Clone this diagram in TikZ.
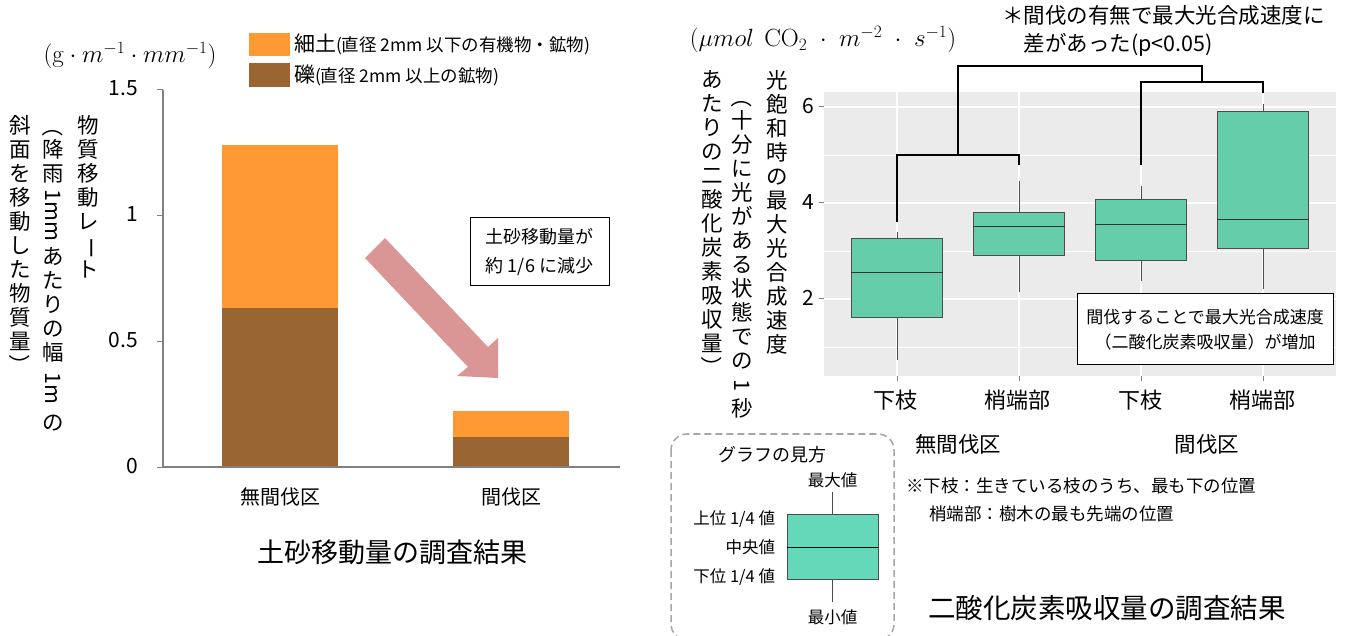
\documentclass[tikz,border=0pt]{standalone}
\usepackage[no-math]{fontspec}
\setmainfont{Noto Sans CJK JP}
\usepackage{graphicx}
\newcommand\fsz[2]{\fontsize{#1}{#2}\selectfont}
\newcommand\rot[1]{\rotatebox[origin=c]{-90}{#1}}
\definecolor{orng}{HTML}{FF9933}
\definecolor{brn}{HTML}{996633}
\definecolor{apink}{HTML}{D99694}
\definecolor{panelc}{HTML}{EBEBEB}
\definecolor{tealc}{HTML}{66CDAA}
\definecolor{teall}{HTML}{66D8BA}
\definecolor{boxln}{HTML}{4D4D4D}
\definecolor{axc}{HTML}{808080}
\definecolor{dashc}{HTML}{A6A6A6}
\tikzset{
  lbl/.style={inner sep=0pt, outer sep=0pt},
  vcol/.style={inner sep=0pt, outer sep=0pt, align=center, font=\fsz{21.5}{24}},
  axisln/.style={draw=axc, line width=1.5pt},
  tickln/.style={draw=axc, line width=1pt},
  whisk/.style={draw=boxln, line width=1pt},
  boxst/.style={fill=tealc, draw=boxln, line width=1pt},
  brk/.style={draw=black, line width=2.5pt},
  txtbox/.style={draw=black, line width=1pt, fill=white, inner sep=0pt, align=center},
}
\newcommand\bplot[6]{%
  \draw[whisk] (#1,#2) -- (#1,#3);
  \draw[whisk] (#1,#5) -- (#1,#6);
  \filldraw[boxst] (#1-45.75,#3) rectangle (#1+45.75,#5);
  \draw[draw=black!80, line width=1pt] (#1-45.75,#4) -- (#1+45.75,#4);
}
\begin{document}
\begin{tikzpicture}[x=1pt,y=-1pt]
\useasboundingbox (0,0) rectangle (1345,636);
% ================= left chart =================
\fill[brn] (222,467) rectangle (338,308);
\fill[orng] (222,308) rectangle (338,145);
\fill[brn] (453,467) rectangle (569,437);
\fill[orng] (453,437) rectangle (569,411);
\draw[axisln] (163,90) -- (163,467) -- (620,467);
\foreach \yy in {90,215.7,341.4,467} \draw[tickln] (157,\yy) -- (163,\yy);
\node[lbl, anchor=east, font=\fsz{21}{24}] (lt15) at (138,88) {1.5};
\node[lbl, anchor=east, font=\fsz{21}{24}] (lt1) at (138,214) {1};
\node[lbl, anchor=east, font=\fsz{21}{24}] (lt05) at (138,340) {0.5};
\node[lbl, anchor=east, font=\fsz{21}{24}] (lt0) at (138,466) {0};
\node[lbl, font=\fsz{23}{26}] (lunit) at (130,56) {$(\mathrm{g}\cdot m^{-1}\cdot mm^{-1})$};
% legend
\fill[orng] (249,33) rectangle (290,56);
\fill[brn] (249,63) rectangle (290,87);
\node[lbl, anchor=west] (leg1) at (294,44) {\fsz{21}{24}細土\fsz{17.5}{20}(直径 2mm 以下の有機物・鉱物)};
\node[lbl, anchor=west] (leg2) at (294,75) {\fsz{21}{24}礫\fsz{17.5}{20}(直径 2mm 以上の鉱物)};
% vertical y label
\node[vcol, anchor=north] (ly1) at (88,115) {物\\質\\移\\動\\レ\\\rot{ー}\\ト};
\node[vcol, anchor=north] (ly2) at (53,115) {\rot{（}\\降\\雨\\\rot{\ 1mm\ }\\あ\\た\\り\\の\\幅\\\rot{\ \ 1m\ \ }\\の};
\node[vcol, anchor=north] (ly3) at (20,115) {斜\\面\\を\\移\\動\\し\\た\\物\\質\\量\\\rot{）}};
% categories and title
\node[lbl, font=\fsz{20}{24}] (lc1) at (280,497) {無間伐区};
\node[lbl, font=\fsz{20}{24}] (lc2) at (511,497) {間伐区};
\node[lbl, font=\fsz{27}{32}] (ltitle) at (392,552) {土砂移動量の調査結果};
% arrow and note
\fill[apink] (365,258) -- (385,238) -- (488,347) -- (498,338) -- (498,378) -- (457,376) -- (468,367) -- cycle;
\node[txtbox, minimum width=139pt, minimum height=68pt, font=\fsz{18}{29}] (lnote) at (539.5,252) {土砂移動量が\\約 1/6 に減少};
% ================= right chart =================
\fill[panelc] (824,92) rectangle (1336,376);
\foreach \yy in {347,251,155} \draw[white, line width=0.6pt] (824,\yy) -- (1336,\yy);
\foreach \yy in {299,203,107} \draw[white, line width=1.3pt] (824,\yy) -- (1336,\yy);
\foreach \xx in {897,1019,1141,1263} \draw[white, line width=1.3pt] (\xx,92) -- (\xx,376);
\foreach \yy in {299,203,107} \draw[tickln] (819,\yy) -- (824,\yy);
\foreach \xx in {897,1019,1141,1263} \draw[tickln] (\xx,376) -- (\xx,381);
\node[lbl, anchor=east, font=\fsz{21}{24}] (rt6) at (814,106) {6};
\node[lbl, anchor=east, font=\fsz{21}{24}] (rt4) at (814,202) {4};
\node[lbl, anchor=east, font=\fsz{21}{24}] (rt2) at (814,298) {2};
\bplot{897}{360}{318}{272.6}{239}{231.8}
\bplot{1019}{292}{256}{227}{212.6}{181}
\bplot{1141}{281}{260.6}{224.6}{199.6}{186}
\bplot{1263}{289}{248.6}{219.8}{111.8}{104}
% brackets
\draw[brk] (897,222) -- (897,155) -- (1019,155) -- (1019,165);
\draw[brk] (958,155) -- (958,66) -- (1202,66) -- (1202,82);
\draw[brk] (1141,165) -- (1141,82) -- (1263,82) -- (1263,93);
\node[lbl, anchor=west, font=\fsz{21.5}{28}, align=left] (rsig) at (1002,31) {＊間伐の有無で最大光合成速度に\\\hphantom{＊}差があった(p<0.05)};
% units and y label
\node[lbl, font=\fsz{23}{26}] (runit) at (823,40) {$(\mu mol\ \ \mathrm{CO_2}\;\cdot\; m^{-2}\;\cdot\; s^{-1})$};
\node[vcol, anchor=north] (ry1) at (777,70) {光\\飽\\和\\時\\の\\最\\大\\光\\合\\成\\速\\度};
\node[vcol, anchor=north] (ry2) at (742,86) {\rot{（}\\十\\分\\に\\光\\が\\あ\\る\\状\\態\\で\\の\\\rot{\ 1\ }\\秒};
\node[vcol, anchor=north] (ry3) at (712,70) {あ\\た\\り\\の\\二\\酸\\化\\炭\\素\\吸\\収\\量\\\rot{）}};
% x labels
\node[lbl, font=\fsz{22}{26}] (rx1) at (895,400) {下枝};
\node[lbl, font=\fsz{22}{26}] (rx2) at (1017,400) {梢端部};
\node[lbl, font=\fsz{22}{26}] (rx3) at (1140,400) {下枝};
\node[lbl, font=\fsz{22}{26}] (rx4) at (1262,400) {梢端部};
\node[lbl, font=\fsz{21.5}{26}] (rg1) at (958,444) {無間伐区};
\node[lbl, font=\fsz{21.5}{26}] (rg2) at (1207,444) {間伐区};
% note box
\node[txtbox, minimum width=256pt, minimum height=71pt, font=\fsz{17}{25}] (rnote) at (1205,329.5) {間伐することで最大光合成速度\\（二酸化炭素吸収量）が増加};
% footnotes
\node[lbl, anchor=west, font=\fsz{17.5}{20}] (fn1) at (906,486) {※下枝：生きている枝のうち、最も下の位置};
\node[lbl, anchor=west, font=\fsz{17.5}{20}] (fn2) at (929,514) {梢端部：樹木の最も先端の位置};
\node[lbl, font=\fsz{27.5}{32}] (rtitle) at (1107,608) {二酸化炭素吸収量の調査結果};
% ================= legend (how to read) =================
\draw[dashc, line width=1.5pt, dash pattern=on 7pt off 4pt, rounded corners=16pt] (671,434) rectangle (894,640);
\node[lbl, font=\fsz{18}{20}] (gtitle) at (772,455) {グラフの見方};
\draw[whisk] (832.5,492) -- (832.5,514);
\draw[whisk] (832.5,579) -- (832.5,602);
\filldraw[fill=teall, draw=boxln, line width=1pt] (787,514) rectangle (878,579);
\draw[draw=black, line width=1pt] (787,547) -- (878,547);
\node[lbl, font=\fsz{16.5}{20}] (gmax) at (832.5,480) {最大値};
\node[lbl, font=\fsz{16.5}{20}] (gmin) at (832.5,617) {最小値};
\node[lbl, anchor=east, font=\fsz{16.5}{20}] (gq3) at (775,519) {上位 1/4 値};
\node[lbl, anchor=east, font=\fsz{16.5}{20}] (gmed) at (775,547) {中央値};
\node[lbl, anchor=east, font=\fsz{16.5}{20}] (gq1) at (775,577) {下位 1/4 値};
\end{tikzpicture}
\end{document}
